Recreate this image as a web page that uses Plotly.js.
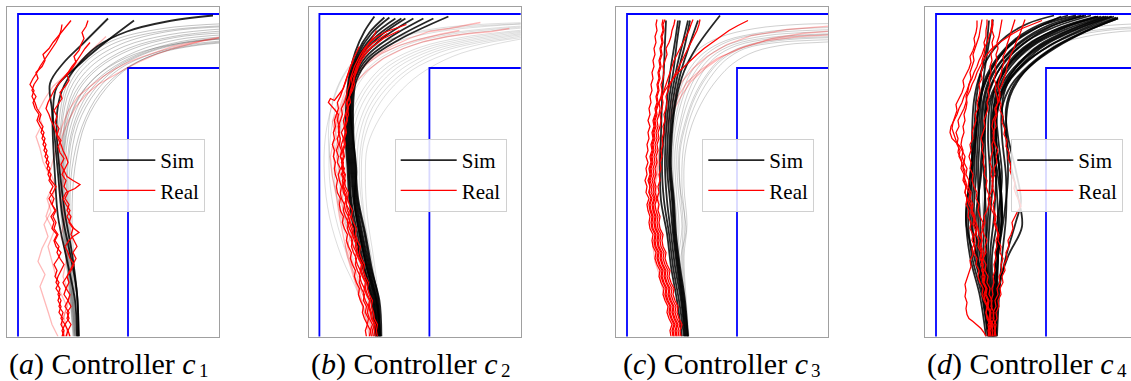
<!DOCTYPE html>
<html><head><meta charset="utf-8">
<script src="https://cdn.plot.ly/plotly-3.0.1.min.js"></script>
<style>html,body{margin:0;padding:0;background:#fff}#chart{width:1131px;height:381px}</style>
</head><body><div id="chart"></div>
<script>
// Units: cm; x = 0 outer wall, x = 110 inner wall; y = 0 bottom of view.
const panelLetters = ["a", "b", "c", "d"];
const panelSubs = ["1", "2", "3", "4"];
const legendNames = ["Sim", "Real"];
const outerWallX = [0, 0, 260];
const outerWallY = [-10, 322.5, 322.5];
const innerWallX = [110, 110, 260];
const innerWallY = [-10, 268.5, 268.5];

// ---------- Panel (a) ----------
const greyA = [
 [[61,0],[57,60],[54,120],[57,170],[68,215],[88,248],[112,270],[145,285],[180,292],[210,295]],
 [[60,0],[55,60],[51,120],[52,170],[60,212],[78,245],[102,268],[135,283],[172,292],[210,296]],
 [[59,0],[54,60],[49,120],[49,170],[55,210],[70,243],[93,266],[125,283],[165,294],[210,299]],
 [[58,0],[53,60],[47,120],[46,170],[50,210],[63,242],[85,266],[118,285],[160,297],[210,302]],
 [[57,0],[52,60],[45,120],[44,170],[47,212],[57,244],[77,268],[110,288],[155,300],[210,306]],
 [[56,0],[51,60],[44,120],[42,170],[44,212],[52,247],[70,272],[102,292],[150,305],[210,310]],
 [[55,0],[50,60],[43,120],[40,170],[41,214],[48,250],[64,276],[95,296],[145,308],[210,313]],
 [[58,0],[52,60],[46,120],[45,170],[49,208],[61,240],[83,264],[116,282],[160,293],[210,298]],
 [[60,0],[56,60],[52,120],[54,168],[64,210],[82,244],[106,267],[140,283],[178,291],[210,294]],
 [[57,0],[51,60],[45,120],[43,170],[46,210],[55,246],[73,270],[106,290],[152,302],[210,308]],
 [[59,0],[53,60],[48,120],[47,170],[52,208],[66,242],[89,265],[122,283],[163,295],[210,300]],
 [[56,0],[50,60],[44,120],[41,172],[43,214],[50,249],[67,274],[98,294],[148,306],[210,311]],
 [[58,0],[54,60],[50,120],[50,170],[57,211],[74,244],[97,267],[130,284],[170,294],[210,298]],
 [[57,0],[52,60],[46,120],[45,170],[48,211],[60,245],[80,268],[113,287],[157,299],[210,304]]
];
const blackA = [
 [[59,0],[57,36],[49,76],[40,120],[37,160],[35,196],[34,226],[32,253],[45,273],[65,293],[90,318]],
 [[60,0],[59,43],[52,83],[44,123],[40,163],[37,196],[35,226],[39,250],[59,270],[82,290],[116,316]],
 [[61,0],[59,43],[54,83],[47,123],[42,163],[39,196],[39,223],[44,246],[57,268],[79,290],[109,305],[149,315],[195,321]]
];
const redA = [
 [[44,0],[46,6],[43,12],[45,18],[41,24],[43,30],[40,36],[42,42],[38,48],[41,54],[37,60],[39,66],[36,72],[40,78],[43,84],[38,90],[36,96],[39,102],[34,108],[36,114],[33,120],[37,126],[34,132],[31,138],[35,144],[38,150],[33,156],[30,162],[32,168],[28,174],[30,180],[26,186],[28,192],[24,198],[26,204],[22,210],[19,216],[21,222],[17,228],[15,234],[18,240],[14,246],[16,252],[20,258],[18,264],[24,270],[27,276],[25,282],[31,288],[35,294],[40,300],[45,306],[50,312],[53,316]],
 [[48,0],[50,6],[47,12],[51,18],[49,24],[53,30],[50,36],[52,42],[48,48],[51,54],[49,60],[53,66],[56,72],[52,78],[50,84],[47,90],[51,96],[55,100],[61,104],[56,108],[52,114],[49,120],[52,126],[48,132],[45,138],[48,144],[57,148],[62,152],[55,156],[49,160],[46,166],[43,172],[46,178],[42,184],[40,190],[43,196],[39,202],[41,208],[37,214],[39,220],[36,226],[40,232],[44,238],[42,244],[47,250],[51,256],[49,262],[54,268],[58,274],[56,280],[61,286],[63,292],[66,298],[64,304],[68,310],[70,316]],
 [[52,0],[50,6],[53,12],[49,18],[51,24],[47,30],[50,36],[46,42],[48,48],[45,54],[49,60],[52,66],[55,72],[58,78],[55,84],[59,90],[56,96],[53,102],[55,108],[51,114],[53,120],[49,126],[51,132],[47,138],[50,144],[46,150],[48,156],[44,162],[47,168],[50,174],[48,180],[45,186],[43,192],[40,198],[38,204],[36,210],[33,216],[31,222],[28,228],[30,234],[33,240],[36,246],[40,252],[45,258],[50,264],[54,270],[59,276],[63,282],[67,288],[72,294]],
 [[46,0],[44,6],[47,12],[43,18],[45,24],[41,30],[43,36],[40,42],[42,48],[38,54],[40,60],[43,66],[46,72],[42,78],[39,84],[41,90],[37,96],[40,102],[36,108],[38,114],[35,120],[38,126],[34,132],[36,138],[32,144],[35,150],[31,156],[33,162],[29,168],[31,174],[27,180],[29,186],[25,192],[27,198],[23,204],[25,210],[21,216],[23,222],[19,228],[17,234],[14,240],[16,246],[12,252],[15,258],[19,264],[22,270],[26,276],[30,282],[34,288],[38,294],[41,300],[43,306],[44,312]]
];
const pinkA = [
 [[47,0],[44,15],[49,30],[42,45],[38,60],[34,75],[30,90],[36,105],[28,120],[33,135],[38,150],[32,165],[36,180],[40,195],[44,210],[50,225],[60,240],[72,250],[85,260],[98,268],[112,275],[125,280],[140,285],[155,290],[170,293],[185,296],[195,298],[210,300]],
 [[40,0],[34,12],[30,25],[26,38],[22,50],[27,62],[20,75],[24,88],[30,100],[26,112],[33,125],[29,138],[35,150],[31,162],[25,175],[22,188],[18,200],[24,212],[20,225],[27,238],[35,250],[48,262],[62,275],[75,288],[88,300]],
 [[50,0],[46,20],[52,40],[45,60],[49,80],[43,100],[47,120],[42,140],[46,160],[40,180],[44,200],[50,215],[58,230],[68,242],[80,252],[94,260],[108,268],[122,275],[138,282],[155,288],[170,292],[185,296],[210,301]]
];

// ---------- Panel (b) ----------
const greyB = [
 [[52,0],[40,40],[22,80],[10,120],[5,160],[6,200],[14,236],[24,260],[40,280],[70,297],[110,307],[160,312],[210,314]],
 [[54,0],[44,40],[28,80],[16,120],[10,160],[11,200],[18,234],[29,258],[46,278],[78,295],[120,305],[165,310],[210,313]],
 [[55,0],[47,40],[33,80],[21,120],[15,160],[16,200],[23,232],[34,256],[52,276],[85,293],[128,303],[170,308],[210,311]],
 [[56,0],[50,40],[38,80],[27,120],[21,160],[21,200],[28,230],[40,254],[58,274],[92,291],[135,301],[175,306],[210,309]],
 [[57,0],[52,40],[42,80],[32,120],[27,160],[27,198],[34,228],[47,252],[66,272],[100,289],[142,299],[180,304],[210,307]],
 [[58,0],[54,40],[46,80],[37,120],[33,160],[33,196],[40,226],[54,250],[74,270],[108,287],[150,297],[185,302],[210,305]],
 [[59,0],[56,40],[49,80],[41,120],[38,160],[39,195],[47,224],[62,248],[83,268],[116,285],[157,295],[190,300],[210,303]],
 [[60,0],[58,40],[52,80],[45,120],[42,160],[44,193],[54,222],[70,246],[92,266],[125,282],[164,293],[195,298],[210,300]],
 [[61,0],[59,40],[54,80],[48,120],[46,160],[48,190],[60,218],[78,242],[100,262],[133,280],[170,291],[210,299]],
 [[58,0],[53,40],[40,80],[24,120],[13,160],[9,200],[12,230],[20,254],[34,275],[60,293],[100,304],[150,310],[210,313]],
 [[56,0],[49,40],[36,80],[25,120],[19,160],[20,200],[26,231],[38,255],[56,275],[88,292],[130,302],[172,307],[210,310]],
 [[59,0],[55,40],[48,80],[40,120],[36,160],[36,195],[44,225],[58,249],[78,269],[112,286],[153,296],[188,301],[210,304]],
 [[57,0],[51,40],[44,80],[35,120],[30,160],[30,197],[37,227],[50,251],[70,271],[104,288],[146,298],[182,303],[210,306]],
 [[60,0],[57,40],[51,80],[44,120],[40,160],[42,194],[50,223],[66,247],[88,267],[120,284],[160,294],[193,299],[210,302]]
];
const blackB = [
 [[56,0],[52,36],[43,70],[35,103],[30,136],[28,170],[26,203],[27,236],[30,262],[36,285],[45,305],[55,320]],
 [[57,0],[53,36],[44,70],[36,103],[31,136],[29,170],[27,203],[28,236],[31,262],[38,284],[50,304],[65,319]],
 [[58,0],[54,36],[45,70],[38,103],[32,136],[30,170],[28,203],[29,236],[32,262],[40,282],[55,302],[76,318]],
 [[59,0],[56,36],[47,70],[40,103],[34,136],[31,170],[29,203],[30,236],[33,260],[42,281],[60,300],[86,318]],
 [[60,0],[57,36],[48,70],[41,103],[35,136],[32,170],[30,203],[31,236],[34,260],[44,280],[64,299],[94,318]],
 [[61,0],[58,36],[50,70],[43,103],[37,136],[34,170],[32,203],[32,236],[35,258],[46,279],[69,298],[104,318]],
 [[62,0],[60,36],[51,70],[45,103],[38,136],[35,170],[33,203],[33,236],[36,258],[48,278],[74,297],[114,318]],
 [[60,0],[59,36],[52,70],[46,103],[39,136],[36,170],[34,203],[34,236],[37,256],[50,277],[80,297],[129,320]],
 [[58,0],[55,36],[47,70],[40,103],[35,136],[37,165],[33,203],[30,236],[32,262],[39,283],[52,303],[70,319]],
 [[61,0],[57,36],[49,70],[42,103],[36,136],[33,170],[31,203],[31,236],[33,261],[41,282],[58,301],[82,318]]
];
const redB = [
 [[50,0],[51,6],[48,12],[49,18],[46,24],[47,30],[44,36],[45,42],[42,48],[40,54],[41,60],[38,66],[36,72],[37,78],[34,84],[32,90],[33,96],[30,102],[28,108],[29,114],[26,120],[24,126],[25,132],[22,138],[21,144],[22,150],[20,156],[19,162],[21,168],[18,174],[19,180],[17,186],[19,192],[18,198],[20,204],[19,210],[21,216],[23,222],[22,228],[25,234],[27,240],[28,246],[30,252],[31,258],[33,264],[35,270],[38,276],[41,282],[45,288],[50,294],[56,299],[63,303],[70,306],[78,309],[87,312]],
 [[54,0],[53,6],[55,12],[52,18],[51,24],[49,30],[50,36],[47,42],[45,48],[46,54],[43,60],[41,66],[42,72],[39,78],[37,84],[38,90],[35,96],[33,102],[34,108],[31,114],[29,120],[30,126],[27,132],[26,138],[27,144],[24,150],[23,156],[25,162],[22,168],[23,174],[21,180],[23,186],[22,192],[24,198],[22,204],[25,210],[24,216],[26,222],[28,228],[27,234],[30,240],[31,246],[33,252],[32,258],[35,264],[37,270],[40,276],[44,282],[48,288],[53,293],[60,298],[68,303]],
 [[58,0],[57,6],[58,12],[55,18],[54,24],[52,30],[53,36],[50,42],[48,48],[49,54],[46,60],[44,66],[45,72],[42,78],[40,84],[41,90],[38,96],[36,102],[37,108],[34,114],[32,120],[33,126],[30,132],[28,138],[29,144],[26,150],[25,156],[26,162],[23,168],[24,174],[21,180],[22,186],[20,192],[21,198],[19,204],[20,210],[18,216],[19,222],[16,226],[12,230],[9,234],[11,238],[15,236],[18,240],[21,244],[24,248],[26,254],[28,260],[30,266],[32,272],[34,278],[37,284],[40,290]],
 [[47,0],[46,6],[48,12],[45,18],[43,24],[44,30],[41,36],[39,42],[40,48],[37,54],[35,60],[36,66],[33,72],[31,78],[32,84],[29,90],[27,96],[28,102],[25,108],[23,114],[24,120],[21,126],[20,132],[21,138],[18,144],[17,150],[18,156],[16,162],[15,168],[16,174],[14,180],[15,186],[13,192],[15,198],[14,204],[16,210],[15,216],[17,222],[19,228],[18,234],[21,240],[23,246],[25,252],[27,258],[29,264],[31,270],[34,276]],
 [[52,0],[51,6],[53,12],[50,18],[48,24],[49,30],[46,36],[44,42],[45,48],[42,54],[40,60],[41,66],[38,72],[36,78],[37,84],[34,90],[32,96],[33,102],[30,108],[28,114],[29,120],[26,126],[25,132],[27,138],[24,144],[23,150],[25,156],[22,162],[24,168],[23,174],[25,180],[24,186],[26,192],[25,198],[27,204],[26,210],[28,216],[27,222],[29,228],[28,234],[30,240],[32,246],[33,252],[35,258],[36,264],[38,270],[40,276],[43,282],[46,288],[50,294],[54,300],[57,306]],
 [[56,0],[55,6],[56,12],[53,18],[52,24],[50,30],[51,36],[48,42],[46,48],[47,54],[44,60],[42,66],[43,72],[40,78],[38,84],[36,90],[37,96],[34,102],[32,108],[30,114],[31,120],[28,126],[27,132],[28,138],[25,144],[24,150],[26,156],[23,162],[25,168],[22,174],[24,180],[23,186],[25,192],[24,198],[26,204],[25,210],[27,216],[29,222],[28,228],[31,234],[30,240],[33,246],[35,252],[34,258],[37,264],[39,270],[42,276],[46,282],[51,288],[57,293],[64,298],[72,302],[80,306]]
];
const pinkB = [
 [[53,0],[50,15],[44,30],[40,45],[35,60],[31,75],[26,90],[29,105],[22,120],[19,135],[23,150],[17,165],[14,180],[18,195],[15,210],[19,225],[24,240],[30,255],[40,268],[55,280],[72,290],[90,298],[110,305],[130,308],[150,312],[161,314]],
 [[57,0],[52,15],[48,30],[42,45],[38,60],[33,75],[28,90],[32,105],[25,120],[22,135],[26,150],[20,165],[17,180],[21,195],[18,210],[23,225],[28,240],[36,254],[48,266],[64,278],[84,288],[105,295],[128,300],[150,303],[172,305],[190,308]],
 [[50,0],[46,20],[40,40],[34,60],[28,80],[24,100],[20,120],[17,140],[13,160],[11,180],[14,195],[20,200],[21,212],[16,222],[13,215],[15,205],[19,220],[24,235],[30,250],[37,262],[48,273],[62,283],[80,291],[100,297],[120,302],[140,306]]
];

// ---------- Panel (c) ----------
const greyC = [
 [[61,0],[58,40],[56,80],[58,115],[55,150],[56,185],[62,215],[72,240],[84,260],[98,276],[118,288],[150,294],[180,296],[210,297]],
 [[60,0],[56,40],[52,80],[55,110],[51,150],[50,185],[55,215],[63,240],[74,262],[88,279],[110,291],[145,298],[180,301],[210,302]],
 [[59,0],[55,40],[50,80],[50,115],[47,150],[46,185],[50,216],[57,242],[67,263],[82,281],[104,293],[140,301],[178,304],[210,305]],
 [[58,0],[54,40],[48,80],[47,115],[44,150],[43,185],[46,216],[52,243],[61,265],[76,283],[99,296],[135,304],[175,308],[210,309]],
 [[62,0],[59,40],[57,80],[60,112],[57,150],[58,182],[65,212],[77,238],[91,258],[106,273],[128,285],[160,292],[190,294],[210,295]],
 [[57,0],[53,40],[47,80],[45,115],[42,150],[41,185],[43,218],[48,245],[56,268],[70,286],[92,299],[128,308],[170,312],[210,313]],
 [[60,0],[57,40],[54,80],[59,105],[57,125],[53,150],[52,185],[58,214],[67,240],[79,261],[94,278],[116,290],[150,297],[210,300]],
 [[59,0],[55,40],[51,80],[52,112],[49,150],[48,185],[53,214],[60,241],[70,262],[85,280],[107,292],[142,299],[210,303]],
 [[61,0],[57,40],[55,80],[56,115],[53,150],[53,184],[59,213],[68,239],[80,260],[95,277],[117,289],[152,296],[210,299]],
 [[58,0],[54,40],[49,80],[49,115],[46,150],[45,185],[48,216],[55,243],[64,264],[79,282],[101,295],[138,303],[210,307]]
];
const blackC = [
 [[55,0],[50,36],[44,70],[40,103],[34,136],[33,170],[34,203],[35,236],[37,270],[38,295],[39,316]],
 [[57,0],[52,36],[46,70],[42,103],[37,136],[35,170],[37,203],[40,236],[44,270],[48,295],[51,316]],
 [[58,0],[54,36],[48,70],[44,103],[40,136],[38,170],[39,203],[42,236],[47,270],[50,295],[53,316]],
 [[59,0],[55,36],[50,70],[46,103],[43,136],[40,170],[41,203],[44,236],[50,270],[56,295],[61,316]],
 [[60,0],[56,36],[51,70],[47,103],[45,136],[42,170],[43,203],[46,236],[52,268],[58,292],[63,316]],
 [[61,0],[57,36],[52,70],[48,103],[46,136],[43,170],[44,203],[48,236],[54,265],[62,290],[71,316]],
 [[61,0],[58,36],[53,70],[49,103],[47,136],[44,170],[45,203],[49,236],[57,265],[70,290],[93,321]]
];
const redC = [
 [[44,0],[43,6],[45,12],[42,18],[40,24],[41,30],[38,36],[36,42],[37,48],[34,54],[32,60],[33,66],[30,72],[28,78],[29,84],[26,90],[25,96],[26,102],[23,108],[22,114],[23,120],[21,126],[20,132],[22,138],[19,144],[20,150],[18,156],[20,162],[19,168],[21,174],[19,180],[21,186],[20,192],[22,198],[21,204],[23,210],[21,216],[23,222],[22,228],[24,234],[23,240],[25,246],[24,252],[26,258],[25,264],[27,270],[26,276],[28,282],[27,288],[29,294],[28,300],[30,306],[29,312],[30,317]],
 [[47,0],[46,6],[48,12],[45,18],[43,24],[44,30],[41,36],[39,42],[40,48],[37,54],[35,60],[36,66],[33,72],[31,78],[32,84],[29,90],[28,96],[29,102],[26,108],[25,114],[26,120],[24,126],[23,132],[25,138],[22,144],[23,150],[22,156],[24,162],[23,168],[25,174],[24,180],[26,186],[25,192],[27,198],[26,204],[28,210],[27,216],[29,222],[28,228],[30,234],[29,240],[31,246],[30,252],[32,258],[31,264],[33,270],[32,276],[34,282],[33,288],[35,294],[34,300],[36,306],[35,312],[36,317]],
 [[50,0],[49,6],[51,12],[48,18],[46,24],[47,30],[44,36],[42,42],[43,48],[40,54],[38,60],[39,66],[36,72],[34,78],[35,84],[32,90],[31,96],[32,102],[29,108],[28,114],[29,120],[27,126],[26,132],[28,138],[26,144],[27,150],[25,156],[27,162],[26,168],[28,174],[27,180],[29,186],[28,192],[30,198],[29,204],[31,210],[30,216],[32,222],[33,228],[32,234],[34,240],[35,246],[34,252],[36,258],[37,264],[36,270],[38,276],[40,282],[39,288],[42,294],[44,300],[45,306],[47,312],[48,317]],
 [[52,0],[51,6],[53,12],[50,18],[48,24],[49,30],[46,36],[44,42],[45,48],[42,54],[40,60],[41,66],[38,72],[36,78],[37,84],[34,90],[33,96],[34,102],[31,108],[30,114],[31,120],[29,126],[28,132],[30,138],[28,144],[29,150],[27,156],[29,162],[28,168],[30,174],[29,180],[31,186],[30,192],[32,198],[31,204],[33,210],[34,216],[33,222],[35,228],[36,234],[35,240],[37,246],[39,252],[41,258],[43,264],[45,270],[47,276],[50,282],[53,288],[56,294],[59,300],[62,306],[64,312],[66,317]],
 [[54,0],[53,6],[55,12],[52,18],[50,24],[51,30],[48,36],[46,42],[47,48],[44,54],[42,60],[43,66],[40,72],[38,78],[39,84],[36,90],[35,96],[36,102],[33,108],[32,114],[33,120],[31,126],[32,132],[30,138],[32,144],[31,150],[33,156],[32,162],[34,168],[33,174],[35,180],[34,186],[36,192],[35,198],[37,204],[36,210],[38,216],[37,222],[39,228],[40,234],[39,240],[41,246],[43,252],[46,258],[49,264],[52,270],[55,276],[58,282],[61,288],[64,294],[67,300],[70,306],[72,312],[73,317]],
 [[46,0],[45,6],[47,12],[44,18],[42,24],[43,30],[40,36],[38,42],[39,48],[36,54],[34,60],[35,66],[32,72],[30,78],[31,84],[28,90],[27,96],[28,102],[25,108],[24,114],[25,120],[23,126],[22,132],[24,138],[22,144],[23,150],[21,156],[23,162],[22,168],[24,174],[23,180],[25,186],[24,192],[26,198],[25,204],[27,210],[26,216],[28,222],[30,228],[32,234],[35,240],[38,246],[42,252],[46,258],[51,264],[57,270],[63,276],[70,282],[77,288],[85,294],[93,300],[102,306],[111,311],[121,316]],
 [[49,0],[48,6],[50,12],[47,18],[45,24],[46,30],[43,36],[41,42],[42,48],[39,54],[37,60],[38,66],[35,72],[33,78],[34,84],[31,90],[30,96],[31,102],[28,108],[27,114],[28,120],[26,126],[25,132],[27,138],[24,144],[25,150],[23,156],[25,162],[24,168],[26,174],[25,180],[27,186],[26,192],[28,198],[27,204],[29,210],[28,216],[30,222],[29,228],[31,234],[30,240],[32,246],[31,252],[33,258],[32,264],[34,270],[33,276],[35,282],[34,288],[36,294],[35,300],[37,306],[36,312],[38,317]]
];
const pinkC = [
 [[53,0],[50,15],[46,30],[42,45],[38,60],[35,75],[31,90],[34,105],[29,120],[32,135],[28,150],[31,165],[33,180],[36,195],[40,210],[46,225],[54,240],[64,255],[78,268],[95,280],[118,290],[145,298],[175,303],[210,306]],
 [[51,0],[48,15],[43,30],[39,45],[35,60],[31,75],[28,90],[31,105],[26,120],[29,135],[27,150],[30,165],[32,180],[35,195],[39,210],[44,225],[51,240],[60,254],[73,266],[90,278],[112,288],[140,296],[172,300],[210,302]],
 [[48,0],[45,15],[41,30],[36,45],[33,60],[28,75],[26,90],[29,105],[25,120],[28,135],[26,150],[29,165],[31,180],[34,195],[37,210],[41,225],[47,240],[55,255],[66,268],[80,280],[100,292],[125,301],[160,307],[210,311]]
];

// ---------- Panel (d) ----------
const greyD = [
 [[56,0],[54,40],[52,80],[55,120],[56,160],[54,200],[56,232],[64,256],[80,276],[105,292],[140,303],[175,308],[210,310]],
 [[58,0],[58,40],[60,80],[64,120],[62,160],[58,200],[60,230],[70,254],[88,274],[115,290],[150,300],[185,305],[210,306]],
 [[55,0],[52,40],[47,80],[46,120],[48,160],[48,200],[50,234],[58,258],[74,278],[100,295],[135,306],[172,311],[210,313]],
 [[57,0],[56,40],[55,80],[58,120],[60,160],[57,200],[58,231],[67,255],[84,275],[110,291],[145,302],[180,307],[210,308]]
];
const blackD = [
 [[52,0],[46,40],[36,80],[32,120],[36,160],[40,200],[44,235],[52,260],[64,280],[82,298],[108,312],[140,321]],
 [[54,0],[50,40],[42,80],[40,120],[45,160],[48,200],[50,235],[58,258],[72,278],[92,296],[120,310],[155,321]],
 [[56,0],[54,40],[50,80],[52,120],[54,160],[52,200],[54,232],[63,256],[78,276],[100,294],[130,309],[165,320]],
 [[58,0],[58,40],[60,80],[66,120],[62,160],[56,200],[58,230],[67,254],[83,274],[106,292],[136,307],[172,320]],
 [[60,0],[60,40],[62,80],[66,120],[64,160],[60,200],[62,228],[71,252],[88,272],[112,290],[143,306],[178,320]],
 [[57,0],[60,40],[72,80],[86,110],[82,140],[74,175],[70,210],[74,240],[88,264],[112,285],[145,303],[182,318]],
 [[53,0],[48,40],[38,80],[30,115],[33,150],[38,190],[42,225],[48,252],[58,272],[74,291],[98,307],[125,320]],
 [[55,0],[52,40],[46,80],[44,120],[42,160],[44,200],[47,235],[54,259],[67,278],[86,296],[112,311],[145,321]],
 [[59,0],[60,40],[62,80],[66,120],[64,160],[60,200],[61,230],[69,254],[85,274],[108,292],[139,307],[175,320]],
 [[61,0],[63,40],[66,80],[70,120],[70,160],[66,200],[66,228],[75,251],[93,271],[117,289],[148,305],[182,319]],
 [[50,0],[44,40],[34,80],[30,120],[34,160],[38,200],[40,235],[44,260],[50,285],[52,305],[53,316]],
 [[54,0],[50,40],[44,80],[38,120],[40,160],[42,200],[45,235],[48,262],[52,288],[55,305],[57,317]],
 [[56,0],[53,40],[48,80],[48,120],[50,160],[49,200],[51,234],[58,257],[70,277],[90,295],[115,310],[148,321]],
 [[58,0],[56,40],[54,80],[58,120],[60,160],[58,200],[58,232],[64,256],[76,276],[96,294],[124,309],[160,320]],
 [[52,0],[47,40],[40,80],[36,120],[38,160],[40,200],[43,235],[50,260],[62,280],[80,298],[104,312],[132,321]],
 [[57,0],[57,40],[56,80],[62,120],[66,160],[62,200],[60,232],[66,256],[80,276],[102,294],[132,308],[168,320]],
 [[60,0],[61,40],[62,80],[62,120],[60,160],[57,200],[60,230],[70,253],[88,273],[114,291],[146,306],[180,319]],
 [[55,0],[53,40],[50,80],[50,120],[48,160],[46,200],[48,234],[55,258],[68,278],[88,296],[116,311],[150,321]],
 [[53,0],[49,40],[41,80],[34,120],[36,160],[36,200],[38,236],[44,262],[54,282],[70,300],[92,313],[118,321]],
 [[58,0],[59,40],[62,80],[68,120],[72,160],[70,200],[66,230],[72,254],[88,274],[110,292],[141,307],[176,320]],
 [[56,0],[55,40],[52,80],[54,120],[57,160],[55,200],[56,233],[62,257],[75,277],[96,295],[126,309],[162,320]],
 [[59,0],[62,40],[70,80],[80,115],[85,135],[80,165],[72,200],[70,228],[78,252],[95,271],[120,289],[150,305],[182,318]],
 [[54,0],[51,40],[45,80],[42,120],[44,160],[47,200],[52,232],[62,256],[76,276],[98,294],[128,309],[162,320]],
 [[57,0],[58,40],[60,80],[64,120],[64,160],[60,200],[62,230],[70,254],[84,274],[104,292],[134,307],[170,320]]
];
const redD = [
 [[50,0],[48,4],[45,8],[41,12],[37,15],[33,18],[31,22],[30,28],[31,34],[29,40],[30,46],[29,52],[31,58],[33,64],[35,70],[34,76],[37,82],[36,88],[39,94],[38,100],[40,106],[37,112],[38,118],[35,124],[36,130],[33,136],[34,142],[31,148],[30,154],[28,160],[29,166],[26,172],[25,178],[22,184],[23,190],[20,196],[18,202],[16,208],[17,214],[19,220],[21,226],[20,232],[23,238],[26,244],[28,250],[27,256],[30,262],[33,268],[35,274],[34,280],[37,286],[39,292],[38,298],[40,304],[41,310],[41,316]],
 [[53,0],[52,6],[54,12],[51,18],[50,24],[52,30],[49,36],[48,42],[50,48],[47,54],[46,60],[48,66],[45,72],[47,78],[50,84],[49,90],[51,96],[48,102],[46,108],[47,114],[44,120],[42,126],[43,132],[40,138],[41,144],[38,150],[36,156],[37,162],[34,168],[35,174],[33,180],[35,186],[34,192],[37,198],[36,204],[38,210],[40,216],[39,222],[42,228],[41,234],[43,240],[44,246],[43,252],[46,258],[45,264],[47,270],[46,276],[48,282],[49,288],[48,294],[50,300],[50,306],[51,312],[51,317]],
 [[56,0],[57,6],[55,12],[58,18],[57,24],[60,30],[59,36],[62,42],[61,48],[64,54],[63,60],[66,66],[65,72],[67,78],[64,84],[65,90],[62,96],[63,102],[60,108],[58,114],[59,120],[56,126],[54,132],[55,138],[52,144],[50,150],[51,156],[48,162],[49,168],[47,174],[48,180],[46,186],[47,192],[45,198],[47,204],[49,210],[48,216],[50,222],[52,228],[51,234],[53,240],[52,246],[54,252],[53,258],[55,264],[54,270],[56,276],[55,282],[57,288],[56,294],[58,300],[56,306],[57,312],[56,317]],
 [[58,0],[59,6],[58,12],[61,18],[60,24],[63,30],[62,36],[65,42],[64,48],[67,54],[66,60],[69,66],[68,72],[71,78],[70,84],[73,90],[72,96],[75,102],[77,108],[76,114],[79,120],[82,126],[85,130],[83,136],[80,142],[78,148],[79,154],[76,160],[74,166],[75,172],[72,178],[73,184],[70,190],[71,196],[68,202],[69,208],[66,214],[67,220],[64,226],[65,232],[63,238],[64,244],[62,250],[63,256],[65,262],[66,268],[68,274],[67,280],[70,286],[71,292],[73,298],[75,304],[77,310],[79,317]],
 [[55,0],[54,6],[56,12],[53,18],[54,24],[51,30],[52,36],[49,42],[50,48],[47,54],[48,60],[46,66],[47,72],[45,78],[46,84],[44,90],[46,96],[45,102],[47,108],[49,114],[48,120],[51,126],[53,132],[52,138],[55,144],[57,150],[56,156],[59,162],[58,168],[61,174],[60,180],[62,186],[59,192],[57,198],[58,204],[56,210],[57,216],[60,222],[59,228],[62,234],[64,240],[63,246],[66,252],[68,258],[70,264],[71,270],[73,276],[75,282],[78,288],[80,294],[83,300],[85,306],[87,312],[89,317]],
 [[60,0],[59,6],[60,12],[57,18],[58,24],[55,30],[56,36],[53,42],[54,48],[51,54],[52,60],[49,66],[50,72],[47,78],[48,84],[45,90],[46,96],[43,102],[42,108],[40,114],[38,120],[36,126],[33,132],[31,138],[29,144],[30,150],[27,156],[28,162],[25,168],[26,174],[23,180],[24,186],[21,192],[22,198],[20,204],[23,210],[22,216],[25,222],[28,228],[30,234],[31,240],[34,246],[36,252],[39,258],[41,264],[44,270],[47,276],[51,282],[56,288],[62,293],[69,298],[77,303],[86,308],[96,312],[106,316]],
 [[52,0],[53,6],[52,12],[55,18],[54,24],[56,30],[55,36],[57,42],[56,48],[58,54],[57,60],[59,66],[58,72],[60,78],[59,84],[61,90],[60,96],[62,102],[61,108],[59,114],[60,120],[58,126],[57,132],[59,138],[58,144],[56,150],[57,156],[55,162],[56,168],[54,174],[55,180],[57,186],[56,192],[58,198],[57,204],[60,210],[59,216],[61,222],[60,228],[62,234],[61,240],[59,246],[60,252],[58,258],[60,264],[59,270],[61,276],[60,282],[62,288],[61,294],[63,300],[64,306],[65,312],[66,317]],
 [[57,0],[56,6],[57,12],[54,18],[55,24],[52,30],[53,36],[50,42],[51,48],[48,54],[49,60],[46,66],[47,72],[44,78],[45,84],[42,90],[43,96],[40,102],[41,108],[38,114],[39,120],[36,126],[37,132],[34,138],[35,144],[32,150],[33,156],[30,162],[31,168],[28,174],[29,180],[26,186],[24,190],[20,194],[16,198],[14,204],[15,210],[18,216],[21,222],[23,228],[26,234],[28,240],[31,246],[33,252],[36,258],[38,264],[41,270],[43,276],[46,282],[48,288],[51,294],[53,300],[55,306],[56,312],[56,317]],
 [[54,0],[53,6],[55,12],[52,18],[50,24],[51,30],[48,36],[46,42],[47,48],[44,54],[42,60],[43,66],[40,72],[41,78],[38,84],[39,90],[36,96],[37,102],[34,108],[35,114],[32,120],[33,126],[30,132],[31,138],[29,144],[30,150],[28,156],[29,162],[27,168],[28,174],[26,180],[27,186],[25,192],[26,198],[28,204],[27,210],[29,216],[28,222],[30,228],[31,234],[30,240],[32,246],[33,252],[35,258],[34,264],[36,270],[38,276],[37,282],[39,288],[41,294],[43,300],[44,306],[45,312],[46,317]]
];
const pinkD = [];

// ---------- layout geometry (pixels) ----------
const W = 1131, H = 381;
const frameLeft = [7.3, 308.7, 616.3, 925.3];
const frameW = 212, frameTop = 7.3, frameBottom = 336.5;
const xMin = -10.7, yMax = 329.2;
const captionSubLeft = [197, 499, 809, 1115];
const greyAlpha = [0.3, 0.17, 0.24, 0.25];
const SERIF = 'Liberation Serif';

const groups = [
  {grey: greyA, pink: pinkA, black: blackA, red: redA},
  {grey: greyB, pink: pinkB, black: blackB, red: redB},
  {grey: greyC, pink: pinkC, black: blackC, red: redC},
  {grey: greyD, pink: pinkD, black: blackD, red: redD}
];

const traces = [];
const layout = {
  width: W, height: H, margin: {l: 0, r: 0, t: 0, b: 0},
  paper_bgcolor: '#fff', plot_bgcolor: '#fff', showlegend: true,
  annotations: [], font: {family: SERIF}
};

groups.forEach((g, i) => {
  const n = i === 0 ? '' : String(i + 1);
  const xa = 'x' + n, ya = 'y' + n;
  const legendId = 'legend' + n;
  const left = frameLeft[i];
  const right = Math.min(left + frameW, W);
  const xMax = xMin + (right - left);
  layout['xaxis' + n] = {
    domain: [left / W, right / W], range: [xMin, xMax], anchor: ya,
    showgrid: false, zeroline: false, showticklabels: false, ticks: '',
    showline: true, mirror: true, linecolor: '#a0a0a0', linewidth: 1, fixedrange: true
  };
  layout['yaxis' + n] = {
    domain: [1 - frameBottom / H, 1 - frameTop / H], range: [0, yMax], anchor: xa,
    showgrid: false, zeroline: false, showticklabels: false, ticks: '',
    showline: true, mirror: true, linecolor: '#a0a0a0', linewidth: 1, fixedrange: true
  };
  layout[legendId] = {
    x: (left + 86) / W, y: 1 - 139 / H, xanchor: 'left', yanchor: 'top',
    bgcolor: 'rgba(255,255,255,0.85)', bordercolor: '#d0d0d0', borderwidth: 1,
    font: {family: SERIF, size: 21, color: '#000'},
    itemwidth: 56, tracegroupgap: 0
  };
  const base = {type: 'scatter', mode: 'lines', xaxis: xa, yaxis: ya, hoverinfo: 'skip', legend: legendId};
  traces.push({...base, x: outerWallX, y: outerWallY, line: {color: '#0000ff', width: 1.8}, showlegend: false});
  traces.push({...base, x: innerWallX, y: innerWallY, line: {color: '#0000ff', width: 1.8}, showlegend: false});
  g.grey.forEach(p => traces.push({...base, x: p.map(q => q[0]), y: p.map(q => q[1]),
    line: {color: 'rgba(60,60,60,' + greyAlpha[i] + ')', width: 1, shape: 'spline', smoothing: 1}, showlegend: false}));
  g.pink.forEach(p => traces.push({...base, x: p.map(q => q[0]), y: p.map(q => q[1]),
    line: {color: 'rgba(255,0,0,0.28)', width: 1.3}, showlegend: false}));
  g.black.forEach((p, k) => traces.push({...base, x: p.map(q => q[0]), y: p.map(q => q[1]),
    name: legendNames[0], line: {color: 'rgba(0,0,0,0.85)', width: 1.8, shape: 'spline', smoothing: 1},
    showlegend: k === 0}));
  g.red.forEach((p, k) => traces.push({...base, x: p.map(q => q[0]), y: p.map(q => q[1]),
    name: legendNames[1], line: {color: '#ff0000', width: 1.3}, showlegend: k === 0}));
  // caption: main text right-aligned exactly where the subscript starts
  layout.annotations.push({
    xref: 'paper', yref: 'paper', x: captionSubLeft[i] / W, y: 1 - 364 / H,
    xanchor: 'right', yanchor: 'middle', showarrow: false, borderpad: 0,
    text: '(<i>' + panelLetters[i] + '</i>) Controller <i>c</i>',
    font: {family: SERIF, size: 30, color: '#000'}
  });
  layout.annotations.push({
    xref: 'paper', yref: 'paper', x: (captionSubLeft[i] + 0.5) / W, y: 1 - 370.5 / H,
    xanchor: 'left', yanchor: 'middle', showarrow: false, borderpad: 0,
    text: panelSubs[i],
    font: {family: SERIF, size: 19, color: '#000'}
  });
});

Plotly.newPlot('chart', traces, layout, {staticPlot: true, displayModeBar: false});
</script></body></html>
